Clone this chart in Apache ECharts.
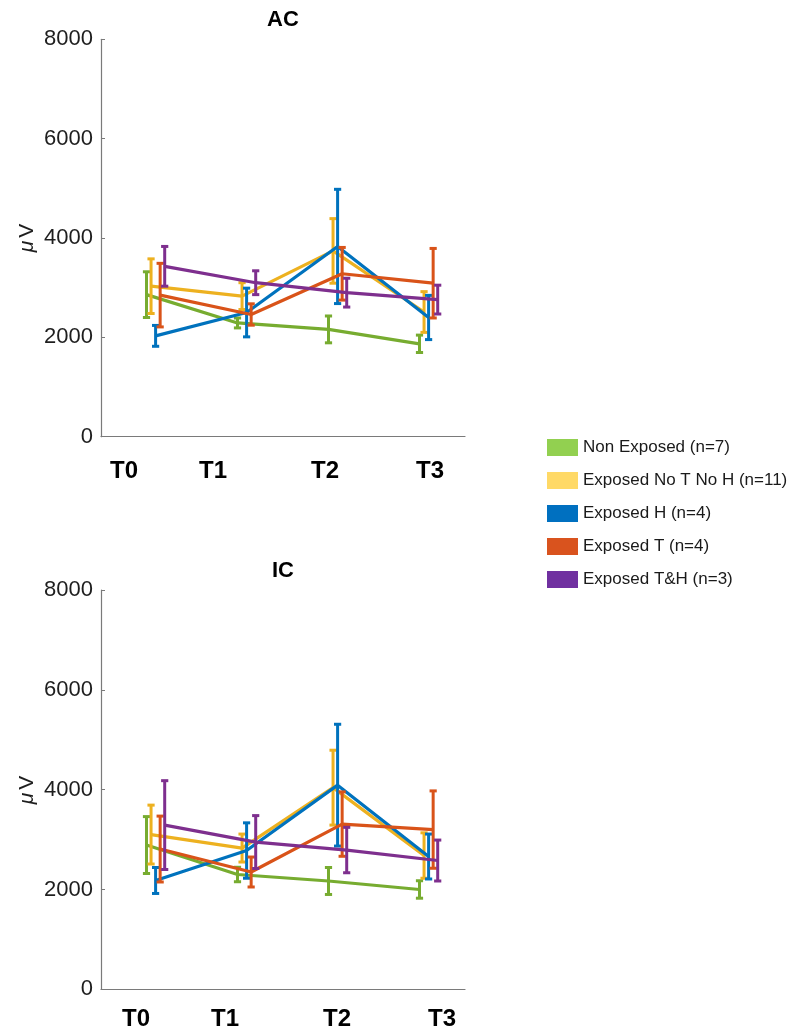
<!DOCTYPE html>
<html><head><meta charset="utf-8">
<script src="https://cdn.jsdelivr.net/npm/echarts@6/dist/echarts.min.js"></script>
<style>html,body{margin:0;padding:0;background:#fff}#c{width:796px;height:1034px}</style>
</head><body><div id="c"></div>
<script>
const timeLabels = ['T0', 'T1', 'T2', 'T3'];
const panelTitles = ['AC', 'IC'];
const groupNames = ['Non Exposed (n=7)', 'Exposed No T No H (n=11)', 'Exposed H (n=4)', 'Exposed T (n=4)', 'Exposed T&H (n=3)'];
const yTicks = [0, 2000, 4000, 6000, 8000];

// AC panel: mean and error (half-length) per time point
const acNonExposed = [2860, 2290, 2160, 1870];
const acNonExposedErr = [460, 100, 270, 175];
const acNoTNoH = [3030, 2830, 3740, 2510];
const acNoTNoHErr = [550, 270, 650, 410];
const acH = [2030, 2500, 3830, 2400];
const acHErr = [210, 490, 1150, 445];
const acT = [2850, 2460, 3280, 3090];
const acTErr = [640, 215, 530, 700];
const acTH = [3430, 3100, 2900, 2760];
const acTHErr = [400, 240, 290, 290];

// IC panel
const icNonExposed = [2890, 2300, 2170, 2000];
const icNonExposedErr = [570, 145, 270, 175];
const icNoTNoH = [3100, 2830, 4040, 2680];
const icNoTNoHErr = [590, 280, 750, 455];
const icH = [2180, 2780, 4090, 2660];
const icHErr = [260, 555, 1220, 450];
const icT = [2810, 2350, 3310, 3200];
const icTErr = [660, 300, 645, 775];
const icTH = [3290, 2950, 2790, 2580];
const icTHErr = [890, 530, 455, 410];

const lineColors = ['#77AC30', '#EDB120', '#0072BD', '#D95319', '#7E2F8E'];
const legendColors = ['#92D050', '#FFD966', '#0070C0', '#D9531E', '#7030A0'];
const FONT = '"Liberation Sans", Arial, Helvetica, sans-serif';

const panels = [
  { means: [acNonExposed, acNoTNoH, acH, acT, acTH], errs: [acNonExposedErr, acNoTNoHErr, acHErr, acTErr, acTHErr] },
  { means: [icNonExposed, icNoTNoH, icH, icT, icTH], errs: [icNonExposedErr, icNoTNoHErr, icHErr, icTErr, icTHErr] }
];

const SERIES_SHIFT = 0.05;
const grids = [
  { left: 101, top: 39.3, width: 364, height: 397.4 },
  { left: 101, top: 590, width: 364, height: 399.3 }
];

const xAxes = [], yAxes = [], series = [];
grids.forEach((g, p) => {
  xAxes.push({
    type: 'category', gridIndex: p, data: timeLabels, boundaryGap: true,
    axisLine: { onZero: false, lineStyle: { color: '#7a7a7a', width: 1.2 } },
    axisTick: { inside: true, alignWithLabel: true, length: 4, interval: 0, lineStyle: { color: '#7a7a7a' } },
    axisLabel: { show: false }, splitLine: { show: false }
  });
  xAxes.push({ type: 'value', gridIndex: p, min: -0.5, max: 3.5, show: false, splitLine: { show: false } });
  yAxes.push({
    type: 'value', gridIndex: p, min: yTicks[0], max: yTicks[yTicks.length - 1], interval: 2000,
    axisLine: { show: true, onZero: false, lineStyle: { color: '#7a7a7a', width: 1.2 } },
    axisTick: { show: true, inside: true, length: 4, lineStyle: { color: '#7a7a7a' } },
    axisLabel: { fontSize: 22, color: '#1e1e1e', margin: 8, fontFamily: FONT, formatter: v => String(v) },
    splitLine: { show: false }
  });
  const P = panels[p];
  groupNames.forEach((name, k) => {
    const pts = P.means[k].map((m, i) => [i + k * SERIES_SHIFT, m, P.errs[k][i]]);
    const col = lineColors[k];
    series.push({
      type: 'line', name, xAxisIndex: p * 2 + 1, yAxisIndex: p,
      data: pts.map(d => [d[0], d[1]]), symbol: 'none', silent: true,
      lineStyle: { color: col, width: 3.2 }, itemStyle: { color: col }, z: 2 + k
    });
    series.push({
      type: 'custom', name, xAxisIndex: p * 2 + 1, yAxisIndex: p,
      data: pts, encode: { x: 0, y: 1 }, silent: true, z: 2 + k,
      renderItem(params, api) {
        const x = api.value(0), m = api.value(1), e = api.value(2);
        const t = api.coord([x, m + e]), b = api.coord([x, m - e]);
        const hw = 3.6, st = { stroke: col, lineWidth: 3 };
        return {
          type: 'group', children: [
            { type: 'line', shape: { x1: t[0], y1: t[1], x2: b[0], y2: b[1] }, style: st },
            { type: 'line', shape: { x1: t[0] - hw, y1: t[1], x2: t[0] + hw, y2: t[1] }, style: st },
            { type: 'line', shape: { x1: b[0] - hw, y1: b[1], x2: b[0] + hw, y2: b[1] }, style: st }
          ]
        };
      }
    });
  });
});

// text elements: titles, time labels, y-axis unit
const labelX = [[124, 213, 325, 430], [136, 225, 337, 442]];
const labelY = [471, 1019];
const titleY = [20, 571];
const unitY = [238, 790];
const graphic = [];
grids.forEach((g, p) => {
  graphic.push({ type: 'text', x: g.left + g.width / 2, y: titleY[p], style: { text: panelTitles[p], font: 'bold 22px ' + FONT, fill: '#000', align: 'center', verticalAlign: 'middle' } });
  timeLabels.forEach((t, i) => {
    graphic.push({ type: 'text', x: labelX[p][i], y: labelY[p], style: { text: t, font: 'bold 24px ' + FONT, fill: '#000', align: 'center', verticalAlign: 'middle' } });
  });
  graphic.push({ type: 'text', x: 27, y: unitY[p], rotation: Math.PI / 2, style: {
    text: '{m|μ}V', align: 'center', verticalAlign: 'middle', font: '21px ' + FONT, fill: '#1e1e1e',
    rich: { m: { fontStyle: 'italic', fontSize: 21, fontFamily: FONT, fill: '#1e1e1e', padding: [0, 3, 0, 0] } }
  } });
});

const chart = echarts.init(document.getElementById('c'), null, { renderer: 'canvas' });
chart.setOption({
  animation: false,
  backgroundColor: '#fff',
  grid: grids,
  xAxis: xAxes,
  yAxis: yAxes,
  legend: {
    orient: 'vertical', left: 542, top: 434, itemWidth: 31, itemHeight: 17, itemGap: 16, icon: 'rect',
    selectedMode: false,
    textStyle: { fontSize: 17, color: '#1a1a1a', fontFamily: FONT, padding: [0, 0, 0, 0] },
    data: groupNames.map((n, i) => ({ name: n, icon: 'rect', itemStyle: { color: legendColors[i], borderWidth: 0 } }))
  },
  graphic,
  series
});
</script></body></html>
